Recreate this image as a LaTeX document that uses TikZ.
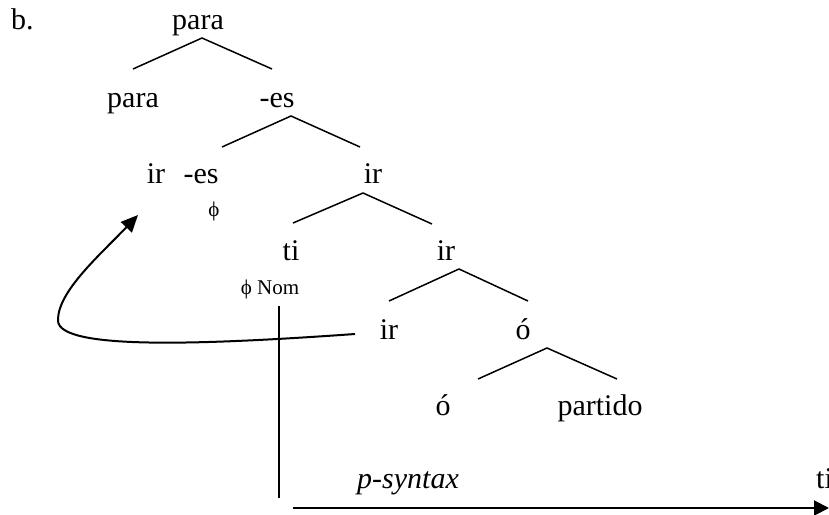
\documentclass[tikz,border=0pt]{standalone}
\usepackage{fontspec}
\setmainfont{Liberation Serif}
\usetikzlibrary{arrows.meta, positioning, calc}
\tikzset{
  word/.style={anchor=base,inner sep=0pt,font=\fontsize{30}{36}\selectfont},
  feat/.style={anchor=base,inner sep=0pt,font=\fontsize{21}{25}\selectfont},
  branch/.style={line width=1.5pt},
  spine/.style={line width=1.5pt},
  move/.style={line width=2pt,-{Triangle[length=17pt,width=15pt]}},
  timeline/.style={line width=2pt,-{Triangle[length=15pt,width=15pt]}},
}

\begin{document}
\begin{tikzpicture}[x=1pt,y=-1pt]
	    \useasboundingbox (0,0) rectangle (829,514);
	    \node[word,anchor=base west] (B) at (11,29) {b.};
	    % words of the tree
	    \node[word] (PARA0) at (198,29) {para};
	    \node[word] (PARA1) at (133,107) {para};
	    \node[word] (ES1) at (277,107) {-es};
	    \node[word] (IR1) at (156,183) {ir};
	    \node[word] (ES2) at (201,183) {-es};
	    \node[word] (IR2) at (373,183) {ir};
	    \node[feat] (PHI1) at (214,216) {ϕ};
	    \node[word] (TI) at (291,260) {ti};
	    \node[word] (IR3) at (446,260) {ir};
	    \node[feat] (PHINOM) at (270,294) {ϕ Nom};
	    \node[word] (IR4) at (389,339) {ir};
	    \node[word] (O1) at (523,339) {ó};
	    \node[word] (O2) at (443,415) {ó};
	    \node[word] (PARTIDO) at (600,415) {partido};
	    \node[word] (PSYN) at (408,488) {\itshape p-syntax};
	    \node[word,anchor=base west] (TIME) at (816,488) {ti};
	    % branch points
	    \coordinate (A1) at (202,38);  \coordinate (L1) at (133,69);  \coordinate (R1) at (272,69);
	    \coordinate (A2) at (291,116); \coordinate (L2) at (222,147); \coordinate (R2) at (360,147);
	    \coordinate (A3) at (363,193); \coordinate (L3) at (293,223); \coordinate (R3) at (432,224);
	    \coordinate (A4) at (459,269); \coordinate (L4) at (389,301); \coordinate (R4) at (528,301);
	    \coordinate (A5) at (547,348); \coordinate (L5) at (478,379); \coordinate (R5) at (617,379);
	    \foreach \i in {1,...,5}
	      \draw[branch] (L\i) -- (A\i) -- (R\i);
	    % movement and p-syntax
	    \coordinate (SPINETOP) at (279,306);
	    \coordinate (SPINEBOT) at (279,498);
	    \draw[spine] (SPINETOP) -- (SPINEBOT);
	    \coordinate (MFROM) at (355,334);
	    \coordinate (MTO) at (138,215);
	    \draw[move] (MFROM) .. controls (200,345) and (60,350) .. (58,321)
	                        .. controls (57,292) and (100,255) .. (MTO);
	    \coordinate (TSTART) at (293,508);
	    \coordinate (TEND) at (829,508);
	    \draw[timeline] (TSTART) -- (TEND);
	\end{tikzpicture}
\end{document}
